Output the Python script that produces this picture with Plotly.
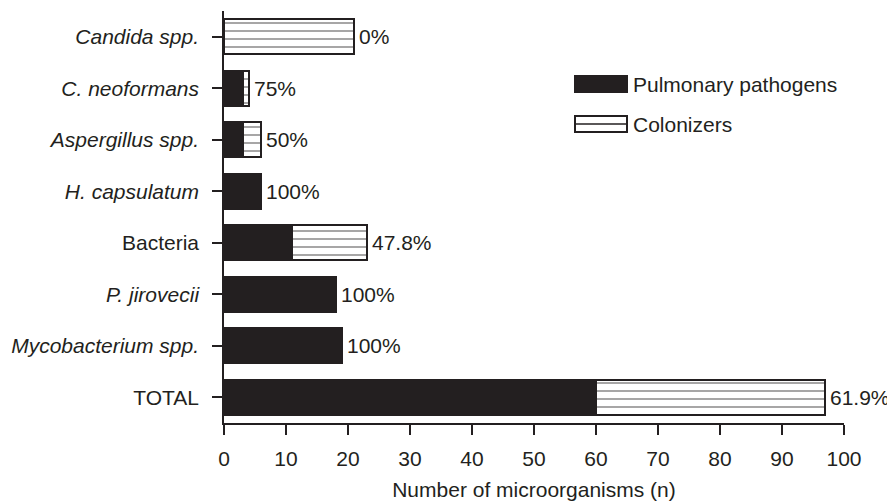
import plotly.graph_objects as go

# ---- data ----
categories = ["TOTAL", "Mycobacterium spp.", "P. jirovecii", "Bacteria",
              "H. capsulatum", "Aspergillus spp.", "C. neoformans", "Candida spp."]
italic_flags = [False, True, True, False, True, True, True, True]
pathogens = [60, 19, 18, 11, 6, 3, 3, 0]
colonizers = [37, 0, 0, 12, 0, 3, 1, 21]
pct_labels = ["61.9%", "100%", "100%", "47.8%", "100%", "50%", "75%", "0%"]
x_ticks = [0, 10, 20, 30, 40, 50, 60, 70, 80, 90, 100]
series_names = ["Pulmonary pathogens", "Colonizers"]
x_title = "Number of microorganisms (n)"

INK = "#231f20"
FONT = "Liberation Sans, Arial, sans-serif"
FS = 21

# the page body has an 8px margin, so the figure is made 8px smaller
W, H = 887, 493
ML, MR, MT, MB = 216, 51, 3, 78
OFF = 8  # page offset

fig = go.Figure()
fig.add_trace(go.Bar(
    y=categories, x=pathogens, orientation="h", name=series_names[0],
    width=0.68, marker=dict(color=INK, line=dict(color=INK, width=2)),
    showlegend=False,
))
fig.add_trace(go.Bar(
    y=categories, x=colonizers, orientation="h", name=series_names[1],
    width=0.68,
    marker=dict(color="white", line=dict(color=INK, width=2),
                pattern=dict(shape="-", fgcolor=INK, bgcolor="white",
                             size=8, solidity=0.2, fillmode="overlay")),
    showlegend=False,
))

# percentage labels at bar ends
for cat, p, c, lab in zip(categories, pathogens, colonizers, pct_labels):
    fig.add_annotation(x=p + c, y=cat, text=lab, showarrow=False,
                       xanchor="left", yanchor="middle", xshift=3,
                       font=dict(family=FONT, size=FS, color=INK))

ticktext = [f"<i>{c}</i>" if it else c for c, it in zip(categories, italic_flags)]

# custom legend (page pixel -> paper)
pw = W - ML - MR
ph = H - MT - MB
def px(x):
    return (x - OFF - ML) / pw
def py(y):
    return (H - MB - (y - OFF)) / ph

fig.add_shape(type="rect", xref="paper", yref="paper",
              x0=px(575), x1=px(627), y0=py(92), y1=py(76),
              fillcolor=INK, line=dict(color=INK, width=2))
fig.add_shape(type="rect", xref="paper", yref="paper",
              x0=px(575), x1=px(627), y0=py(132), y1=py(116),
              fillcolor="white", line=dict(color=INK, width=2))
fig.add_shape(type="line", xref="paper", yref="paper",
              x0=px(575), x1=px(627), y0=py(124), y1=py(124),
              line=dict(color=INK, width=1.5))
fig.add_annotation(xref="paper", yref="paper", x=px(631), y=py(84),
                   text=series_names[0], showarrow=False, xanchor="left",
                   yanchor="middle", font=dict(family=FONT, size=FS, color=INK))
fig.add_annotation(xref="paper", yref="paper", x=px(631), y=py(124),
                   text=series_names[1], showarrow=False, xanchor="left",
                   yanchor="middle", font=dict(family=FONT, size=FS, color=INK))

fig.update_layout(
    width=W, height=H, barmode="stack",
    plot_bgcolor="white", paper_bgcolor="white",
    margin=dict(l=ML, r=MR, t=MT, b=MB, pad=0, autoexpand=False),
    font=dict(family=FONT, size=FS, color=INK),
    xaxis=dict(range=[0, 100], tickvals=x_ticks, showgrid=False, zeroline=False,
               showline=True, linecolor=INK, linewidth=1.5,
               ticks="outside", ticklen=10, tickwidth=1.5, tickcolor=INK,
               automargin=False, ticklabelstandoff=6,
               tickfont=dict(family=FONT, size=FS, color=INK),
               title=dict(text=x_title, standoff=13,
                          font=dict(family=FONT, size=FS, color=INK))),
    yaxis=dict(type="category", categoryorder="array", categoryarray=categories,
               range=[-0.5, 7.5], tickvals=categories, ticktext=ticktext,
               showgrid=False, zeroline=False, showline=True, linecolor=INK,
               linewidth=1.5, ticks="outside", ticklen=10, tickwidth=1.5,
               tickcolor=INK, ticklabelstandoff=9, automargin=False,
               tickfont=dict(family=FONT, size=FS, color=INK)),
)

fig.write_html("out.html")
